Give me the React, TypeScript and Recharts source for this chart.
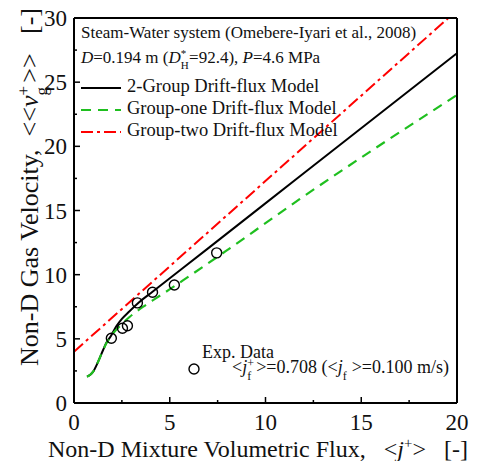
import { ComposedChart, Line, Scatter, XAxis, YAxis } from "recharts"

// 2-Group drift-flux model (black solid)
const twoGroupX = [0.68, 0.85, 1.0, 1.26, 1.52, 1.69, 1.92, 2.2, 2.5, 2.9, 3.4, 4.1, 7.0, 11.78, 20]
const twoGroupY = [2.05, 2.2, 2.45, 3.22, 4.13, 4.7, 5.2, 5.95, 6.55, 7.15, 7.85, 8.67, 12.05, 17.65, 27.26]

// Group-one drift-flux model (green dashed)
const groupOneX = [0.68, 0.85, 1.0, 1.26, 1.52, 1.69, 1.95, 2.36, 2.9, 3.66, 4.27, 4.97, 5.67, 7.94, 11.78, 20]
const groupOneY = [2.05, 2.2, 2.45, 3.22, 4.13, 4.65, 5.25, 5.95, 6.7, 7.55, 8.15, 8.83, 9.53, 11.85, 15.88, 24.0]

// Group-two drift-flux model (red dash-dot)
const groupTwoX = [0, 19.55]
const groupTwoY = [4.0, 30]

// Experimental data, Omebere-Iyari et al. (2008)
const expX = [1.95, 2.53, 2.79, 3.31, 4.1, 5.24, 7.45]
const expY = [5.04, 5.82, 6.02, 7.8, 8.63, 9.2, 11.7]

const xTicks = [0, 2.5, 5, 7.5, 10, 12.5, 15, 17.5, 20]
const yTicks = [0, 2.5, 5, 7.5, 10, 12.5, 15, 17.5, 20, 22.5, 25, 27.5, 30]

const toPoints = (xs: number[], ys: number[]) => xs.map((x, i) => ({ x, y: ys[i] }))

const FONT = "'Liberation Serif', 'Times New Roman', serif"

const BottomTick = (p: any) => {
  const v = p.payload.value
  const major = v % 5 === 0
  return (
    <g>
      <line x1={p.x} y1={p.y} x2={p.x} y2={p.y - (major ? 6 : 3)} stroke="#000" strokeWidth={1.5} />
      {major && (
        <text x={p.x} y={p.y + 27} textAnchor="middle" fontSize={23} fontFamily={FONT} fill="#111">
          {v}
        </text>
      )}
    </g>
  )
}

const LeftTick = (p: any) => {
  const v = p.payload.value
  const major = v % 5 === 0
  return (
    <g>
      <line x1={p.x} y1={p.y} x2={p.x + (major ? 6 : 3)} y2={p.y} stroke="#000" strokeWidth={1.5} />
      {major && (
        <text x={p.x - 7} y={p.y + 8} textAnchor="end" fontSize={23} fontFamily={FONT} fill="#111">
          {v}
        </text>
      )}
    </g>
  )
}

const TopTick = (p: any) => {
  const major = p.payload.value % 5 === 0
  return <line x1={p.x} y1={p.y} x2={p.x} y2={p.y + (major ? 6 : 3)} stroke="#000" strokeWidth={1.5} />
}

const RightTick = (p: any) => {
  const major = p.payload.value % 5 === 0
  return <line x1={p.x} y1={p.y} x2={p.x - (major ? 6 : 3)} y2={p.y} stroke="#000" strokeWidth={1.5} />
}

// superscript stacked over subscript; size = parent font size in px
const Stack = ({ sup, sub, size }: { sup: string; sub: string; size: number }) => {
  const s = Math.round(size * 0.65)
  return (
    <span style={{ position: "relative", display: "inline-block", width: s * 0.75, height: 0 }}>
      <span style={{ position: "absolute", left: 0, bottom: size * 0.25, fontSize: s, lineHeight: 1 }}>{sup}</span>
      <span style={{ position: "absolute", left: 0, top: -size * 0.18, fontSize: s, lineHeight: 1 }}>{sub}</span>
    </span>
  )
}

const LegendLine = ({ color, dash }: { color: string; dash?: string }) => (
  <svg width={40} height={10} style={{ marginRight: 6, verticalAlign: "middle" }}>
    <line x1={0} y1={5} x2={40} y2={5} stroke={color} strokeWidth={2} strokeDasharray={dash} />
  </svg>
)

const textRow = (top: number, left: number, size = 17): React.CSSProperties => ({
  position: "absolute",
  top,
  left,
  fontFamily: FONT,
  fontSize: size,
  lineHeight: "22px",
  whiteSpace: "nowrap",
  color: "#111",
})

export default function App() {
  return (
    <div style={{ position: "relative", width: 478, height: 453 }}>
      <ComposedChart width={478} height={453} margin={{ top: 0, right: 0, bottom: 0, left: 0 }}>
        <XAxis
          type="number"
          dataKey="x"
          domain={[0, 20]}
          ticks={xTicks}
          interval={0}
          height={58}
          tickSize={0}
          tickMargin={0}
          tick={BottomTick}
          axisLine={{ stroke: "#000", strokeWidth: 2 }}
        />
        <XAxis
          xAxisId="top"
          orientation="top"
          type="number"
          dataKey="x"
          domain={[0, 20]}
          ticks={xTicks}
          interval={0}
          height={10}
          tickSize={0}
          tickMargin={0}
          tick={TopTick}
          axisLine={{ stroke: "#000", strokeWidth: 2 }}
        />
        <YAxis
          type="number"
          dataKey="y"
          domain={[0, 30]}
          ticks={yTicks}
          interval={0}
          width={66}
          tickSize={0}
          tickMargin={0}
          tick={LeftTick}
          axisLine={{ stroke: "#000", strokeWidth: 2 }}
        />
        <YAxis
          yAxisId="right"
          orientation="right"
          type="number"
          dataKey="y"
          domain={[0, 30]}
          ticks={yTicks}
          interval={0}
          width={29}
          tickSize={0}
          tickMargin={0}
          tick={RightTick}
          axisLine={{ stroke: "#000", strokeWidth: 2 }}
        />
        <Line
          data={toPoints(groupTwoX, groupTwoY)}
          dataKey="y"
          type="linear"
          stroke="#ff0000"
          strokeWidth={2}
          strokeDasharray="12 4 3 4"
          dot={false}
          isAnimationActive={false}
        />
        <Line
          data={toPoints(twoGroupX, twoGroupY)}
          dataKey="y"
          type="monotone"
          stroke="#000"
          strokeWidth={2}
          dot={false}
          isAnimationActive={false}
        />
        <Line
          data={toPoints(groupOneX, groupOneY)}
          dataKey="y"
          type="monotone"
          stroke="#1fbf1f"
          strokeWidth={2.2}
          strokeDasharray="10 7"
          dot={false}
          isAnimationActive={false}
        />
        <Scatter
          data={toPoints(expX, expY)}
          dataKey="y"
          isAnimationActive={false}
          shape={(p: any) => <circle cx={p.cx} cy={p.cy} r={5} fill="none" stroke="#000" strokeWidth={1.4} />}
        />
      </ComposedChart>

      {/* legend block, top left */}
      <div style={textRow(14, 73)}>Steam-Water system (Omebere-Iyari et al., 2008)</div>
      <div style={textRow(39, 73)}>
        <i>D</i>=0.194 m (<i>D</i>
        <Stack sup="*" sub="H" size={17} />
        =92.4), <i>P</i>=4.6 MPa
      </div>
      <div style={textRow(67, 73, 18.5)}>
        <LegendLine color="#000" />
        2-Group Drift-flux Model
      </div>
      <div style={textRow(89, 73, 18.5)}>
        <LegendLine color="#1fbf1f" dash="10 7" />
        Group-one Drift-flux Model
      </div>
      <div style={textRow(111, 73, 18.5)}>
        <LegendLine color="#ff0000" dash="12 4 3 4" />
        Group-two Drift-flux Model
      </div>

      {/* experimental data legend */}
      <div style={textRow(333, 194, 18)}>Exp. Data</div>
      <div style={textRow(348, 179, 18)}>
        <svg width={14} height={12} style={{ marginRight: 31, verticalAlign: "middle" }}>
          <circle cx={7} cy={6} r={5} fill="none" stroke="#000" strokeWidth={1.4} />
        </svg>
        &lt;<i>j</i>
        <Stack sup="+" sub="f" size={18} />
        &gt;=0.708 (&lt;<i>j</i>
        <Stack sup="" sub="f" size={18} />
        &gt;=0.100 m/s)
      </div>

      {/* axis titles */}
      <div
        style={{
          position: "absolute",
          left: 40,
          top: 429,
          fontFamily: FONT,
          fontSize: 24,
          lineHeight: "24px",
          whiteSpace: "pre",
          color: "#111",
        }}
      >
        {"Non-D Mixture Volumetric Flux,   <"}
        <i>j</i>
        <sup style={{ fontSize: "0.62em", lineHeight: 0 }}>+</sup>
        {">   [-]"}
      </div>
      <div
        style={{
          position: "absolute",
          left: 22 - 200,
          top: 191 - 14 - 12,
          width: 400,
          textAlign: "center",
          transform: "rotate(-90deg)",
          transformOrigin: "center",
          fontFamily: FONT,
          fontSize: 26,
          lineHeight: "28px",
          whiteSpace: "pre",
          color: "#111",
        }}
      >
        {"Non-D Gas Velocity,  <<"}
        <i>v</i>
        <Stack sup="+" sub="g" size={26} />
        {">>   [-]"}
      </div>
    </div>
  )
}
